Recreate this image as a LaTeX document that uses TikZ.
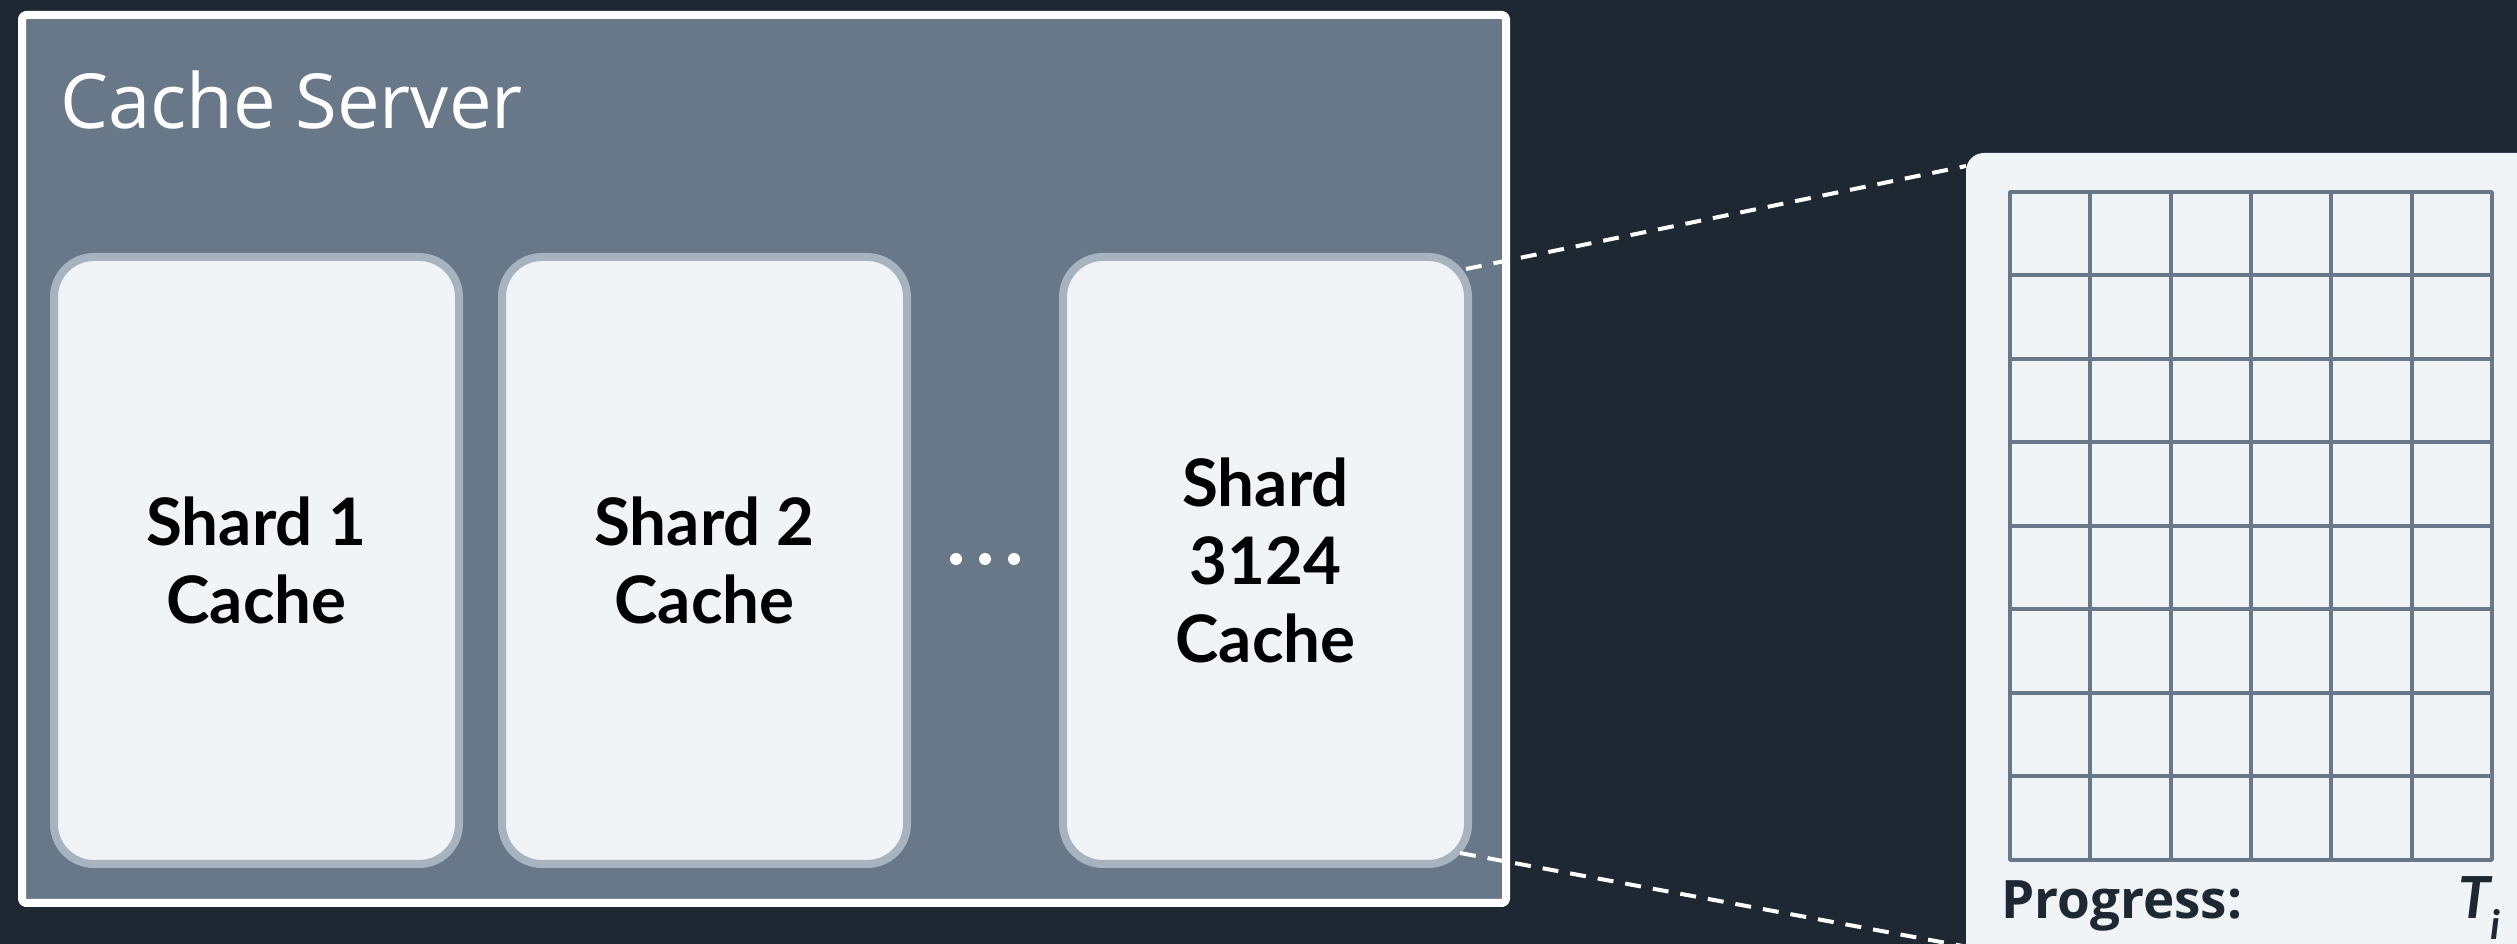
\documentclass[tikz,border=0pt]{standalone}
\usepackage{fontspec}
\setmainfont{Lato}
\newfontfamily\plainfont{Open Sans}
\definecolor{bgnavy}{HTML}{1D2833}
\definecolor{serverslate}{HTML}{687889}
\definecolor{shardedge}{HTML}{A7B4C0}
\definecolor{shardfill}{HTML}{F0F4F7}
\begin{document}
\begin{tikzpicture}[>=latex,line join=bevel,
  serverbox/.style={draw=white,line width=8bp,fill=serverslate,rounded corners=4bp,outer sep=0bp,
    minimum width=1484bp,minimum height=888bp},
  shardbox/.style={draw=shardedge,line width=8bp,fill=shardfill,rounded corners=40bp,outer sep=0bp,
    minimum width=405bp,minimum height=607bp,align=center,
    font=\fontsize{65.5bp}{78bp}\selectfont\bfseries},
  zoomline/.style={white,line width=4bp,dash pattern=on 16bp off 12bp},
  gridline/.style={serverslate,line width=4bp},
  ]
%%
\useasboundingbox [fill=bgnavy] (0bp,0bp) rectangle (2517bp,944bp);
%%
\node (server) at (764bp,485bp) [serverbox] {};
  \node (server_title) at (60bp,815bp) [anchor=base west,inner sep=0bp,text=white,font=\plainfont\fontsize{76bp}{80bp}\selectfont] {Cache Server};
%
\node (shard_1) at (256.5bp,383.5bp) [shardbox] {Shard 1\\Cache};
  \node (shard_2) at (704.5bp,383.5bp) [shardbox] {Shard 2\\Cache};
  \node (shard_3124) at (1265.5bp,383.5bp) [shardbox] {Shard\\3124\\Cache};
  \foreach \x in {956,985,1014}
    \fill [white] (\x bp,385bp) circle (6bp);
%
\node (panel) at (1966bp,791bp) [anchor=north west,fill=shardfill,rounded corners=18bp,outer sep=0bp,
    minimum width=700bp,minimum height=900bp] {};
  \coordinate (panel_foot) at (1968bp,-3bp);
  \draw [zoomline] ([xshift=-2bp,yshift=-12bp]shard_3124.north east) -- ([yshift=-13bp]panel.north west);
  \draw [zoomline] ([xshift=-8bp,yshift=11bp]shard_3124.south east) -- (panel_foot);
%
\node (progress_grid) at (2251bp,418bp) [draw=serverslate,line width=4bp,outer sep=0bp,
    minimum width=482bp,minimum height=668bp] {};
  \foreach \c in {1,...,5}
    \draw [gridline] ([xshift=\c*80.33bp]progress_grid.south west) -- ([xshift=\c*80.33bp]progress_grid.north west);
  \foreach \r in {1,...,7}
    \draw [gridline] ([yshift=\r*83.5bp]progress_grid.south west) -- ([yshift=\r*83.5bp]progress_grid.south east);
%
\node (progress_label) at (2001bp,26bp) [anchor=base west,inner sep=0bp,text=bgnavy,font=\plainfont\fontsize{53bp}{60bp}\selectfont\bfseries] {Progress:};
  \node (progress_time) at (2458bp,26bp) [anchor=base west,inner sep=0bp,text=bgnavy,font=\fontsize{58bp}{60bp}\selectfont\bfseries\itshape] {T\textsubscript{i}};
%
\end{tikzpicture}
\end{document}
